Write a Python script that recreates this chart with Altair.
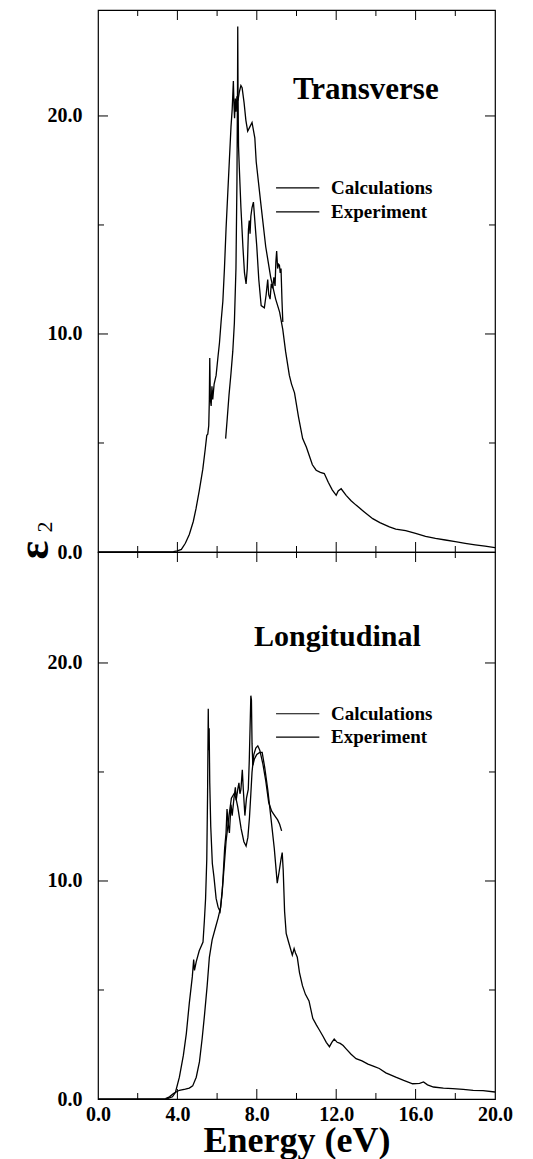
import altair as alt
import pandas as pd

FONT = "Liberation Serif"

# ---------------- data (Energy eV, epsilon_2) ----------------
trans_calc = [(0.0, 0.0), (1.0, 0.0), (2.0, 0.0), (3.0, 0.0), (3.5, 0.0), (3.8, 0.02), (4.0, 0.05), (4.2, 0.12),
              (4.4, 0.4), (4.6, 0.8), (4.8, 1.4), (4.94, 2.0), (5.1, 2.8), (5.28, 3.8), (5.4, 4.7), (5.48, 5.35),
              (5.53, 5.4), (5.58, 5.8), (5.61, 7.0), (5.63, 8.9), (5.66, 7.0), (5.7, 6.7), (5.74, 7.6), (5.78, 7.0),
              (5.85, 7.7), (5.95, 8.1), (6.05, 9.0), (6.12, 9.6), (6.2, 10.55), (6.29, 11.5), (6.37, 13.0),
              (6.45, 14.8), (6.54, 16.5), (6.62, 18.0), (6.7, 19.5), (6.76, 20.3), (6.82, 21.6), (6.85, 20.5),
              (6.88, 19.9), (6.92, 20.8), (6.96, 20.2), (7.0, 20.9), (7.05, 20.7), (7.12, 21.1), (7.2, 21.4),
              (7.26, 21.3), (7.36, 20.6), (7.45, 19.8), (7.54, 19.3), (7.65, 19.5), (7.76, 19.7), (7.9, 19.0),
              (7.97, 17.9), (8.2, 16.0), (8.45, 14.0), (8.7, 12.6), (8.95, 11.6), (9.15, 11.0), (9.31, 10.2),
              (9.45, 9.2), (9.64, 8.1), (9.75, 7.7), (9.9, 7.3), (10.1, 6.2), (10.31, 5.2), (10.5, 4.8),
              (10.65, 4.4), (10.8, 4.0), (10.99, 3.75), (11.2, 3.65), (11.4, 3.6), (11.6, 3.2), (11.8, 2.85),
              (12.0, 2.6), (12.1, 2.8), (12.25, 2.9), (12.5, 2.6), (12.75, 2.35), (13.0, 2.15), (13.4, 1.85),
              (13.84, 1.53), (14.2, 1.35), (14.68, 1.15), (15.0, 1.05), (15.5, 0.98), (16.0, 0.85), (16.5, 0.72),
              (17.0, 0.62), (17.5, 0.55), (18.0, 0.48), (18.5, 0.4), (19.0, 0.33), (19.5, 0.27), (20.0, 0.2)]

trans_exp = [(6.43, 5.2), (6.5, 6.0), (6.6, 7.2), (6.7, 8.2), (6.79, 9.2), (6.87, 10.5), (6.95, 13.0), (7.0, 17.0),
             (7.03, 21.5), (7.04, 24.1), (7.055, 21.0), (7.08, 18.6), (7.12, 17.6), (7.2, 15.8), (7.3, 14.0),
             (7.38, 12.8), (7.46, 12.3), (7.52, 13.0), (7.58, 14.8), (7.62, 15.2), (7.66, 14.6), (7.7, 15.4),
             (7.76, 15.8), (7.83, 16.05), (7.9, 15.2), (8.0, 14.0), (8.1, 12.5), (8.22, 11.3), (8.38, 11.2),
             (8.47, 11.8), (8.55, 12.5), (8.6, 11.8), (8.67, 11.6), (8.73, 12.3), (8.8, 12.1), (8.86, 12.6),
             (8.92, 12.2), (8.96, 13.3), (9.0, 13.8), (9.05, 13.0), (9.1, 13.2), (9.14, 13.15), (9.18, 12.8),
             (9.22, 13.0), (9.27, 11.5), (9.31, 10.55)]

long_calc = [(0.0, 0.0), (1.0, 0.0), (2.0, 0.0), (3.0, 0.0), (3.5, 0.02), (3.75, 0.1), (3.9, 0.3), (4.1, 1.0),
             (4.3, 2.0), (4.45, 3.0), (4.6, 4.4), (4.75, 5.6), (4.82, 6.4), (4.86, 5.9), (4.95, 6.3), (5.1, 6.8),
             (5.29, 7.2), (5.36, 8.2), (5.42, 9.2), (5.48, 11.0), (5.52, 14.0), (5.555, 17.9), (5.575, 16.0),
             (5.6, 17.0), (5.63, 14.5), (5.68, 12.5), (5.76, 10.8), (5.84, 10.2), (5.95, 9.2), (6.05, 8.8),
             (6.15, 8.6), (6.26, 9.5), (6.38, 11.5), (6.45, 12.2), (6.5, 13.3), (6.56, 12.6), (6.62, 12.2),
             (6.7, 13.5), (6.76, 13.0), (6.85, 13.8), (6.92, 14.3), (6.96, 13.7), (7.04, 14.2), (7.1, 14.5),
             (7.15, 14.0), (7.2, 14.2), (7.27, 15.1), (7.32, 14.2), (7.4, 13.0), (7.48, 13.8), (7.57, 14.2),
             (7.62, 15.5), (7.66, 17.0), (7.7, 18.5), (7.73, 18.3), (7.76, 16.3), (7.8, 15.3), (7.88, 15.6),
             (8.0, 15.8), (8.15, 15.9), (8.27, 15.9), (8.4, 15.2), (8.55, 14.2), (8.7, 13.0), (8.88, 11.5),
             (9.03, 9.9), (9.12, 10.4), (9.22, 11.0), (9.28, 11.3), (9.33, 10.5), (9.4, 8.6), (9.48, 7.6),
             (9.6, 7.2), (9.79, 6.6), (9.88, 6.9), (9.95, 6.7), (10.04, 6.5), (10.15, 5.8), (10.3, 5.2),
             (10.45, 4.8), (10.63, 4.5), (10.82, 3.7), (11.0, 3.4), (11.13, 3.2), (11.32, 2.9), (11.5, 2.6),
             (11.66, 2.4), (11.78, 2.6), (11.9, 2.75), (12.05, 2.6), (12.2, 2.55), (12.35, 2.45), (12.5, 2.3),
             (12.75, 2.05), (13.0, 1.85), (13.3, 1.75), (13.6, 1.6), (13.9, 1.5), (14.17, 1.4), (14.5, 1.2),
             (15.0, 1.0), (15.4, 0.85), (15.85, 0.7), (16.2, 0.72), (16.4, 0.78), (16.6, 0.65), (16.9, 0.55),
             (17.4, 0.5), (17.87, 0.48), (18.4, 0.44), (18.9, 0.4), (19.4, 0.38), (20.0, 0.32)]

long_exp = [(3.4, 0.02), (3.6, 0.1), (3.8, 0.25), (4.1, 0.4), (4.4, 0.45), (4.6, 0.5), (4.77, 0.6), (4.95, 1.0),
            (5.11, 1.7), (5.25, 2.8), (5.36, 3.8), (5.5, 5.2), (5.61, 6.5), (5.75, 7.3), (5.93, 7.9), (6.05, 8.3),
            (6.18, 8.8), (6.3, 10.0), (6.45, 11.8), (6.6, 13.0), (6.72, 13.8), (6.85, 14.0), (6.95, 13.8),
            (7.04, 13.4), (7.21, 12.4), (7.35, 11.8), (7.46, 11.6), (7.55, 12.0), (7.63, 12.9), (7.7, 14.0),
            (7.76, 15.0), (7.85, 15.8), (7.95, 16.1), (8.05, 16.2), (8.15, 16.0), (8.3, 15.4), (8.45, 14.6),
            (8.6, 13.6), (8.75, 13.2), (8.9, 13.0), (9.05, 12.8), (9.15, 12.6), (9.25, 12.3)]

series_names = ["Calculations", "Experiment"]
panel_titles = ["Transverse", "Longitudinal"]
panel_title_sizes = [31, 30]

x_label_values = [0, 4, 8, 12, 16, 20]
y_label_values = [0, 10, 20]
x_major_ticks = [4, 8, 12, 16]
x_minor_ticks = [2, 6, 10, 14, 18]
y_major_ticks = [10, 20]
y_minor_ticks = [5, 15]

# annotation anchors (data units)
title_anchor = [(13.49, 20.78), (12.06, 20.8)]
legend_line_E = (8.97, 11.15)
legend_text_E = 11.74
legend_rows_v = [(16.7, 15.6), (17.67, 16.6)]

W = 397
heights = [542, 547]
ymax = [24.86, 25.09]


def make_panel(idx, calc, exp, bottom):
    H = heights[idx]
    xs = alt.Scale(domain=[0, 20], nice=False, zero=False)
    ys = alt.Scale(domain=[0, ymax[idx]], nice=False, zero=False)
    rows = [{"E": e, "v": v, "series": series_names[0]} for e, v in calc] + \
           [{"E": e, "v": v, "series": series_names[1]} for e, v in exp]
    df = pd.DataFrame(rows)

    if bottom:
        xaxis = alt.Axis(values=x_label_values, format=".1f", labelFont=FONT, labelFontSize=20,
                         labelFontWeight="bold", labelColor="black", labelFlush=False,
                         labelOverlap=False, ticks=False, tickSize=0, domain=False, grid=False,
                         labelPadding=5, titleFont=FONT, titleFontSize=36, titleFontWeight="bold",
                         titleColor="black", titlePadding=-1)
        xtitle = "Energy (eV)"
    else:
        xaxis = None
        xtitle = ""
    yaxis = alt.Axis(values=y_label_values, format=".1f", labelFont=FONT, labelFontSize=20,
                     labelFontWeight="bold", labelColor="black", labelFlush=False,
                     labelOverlap=False, ticks=False, tickSize=0, domain=False, grid=False,
                     labelPadding=16)

    def X(field):
        return alt.X(field, scale=xs, axis=xaxis, title=xtitle)

    def Y(field):
        return alt.Y(field, scale=ys, axis=yaxis, title="")

    lines = alt.Chart(df).mark_line(color="black", strokeWidth=1.3, clip=True).encode(
        x=X("E:Q"), y=Y("v:Q"), detail="series:N")

    layers = [lines]
    # inward ticks on all four sides
    for vals, ln in ((x_major_ticks, 10), (x_minor_ticks, 6)):
        d = pd.DataFrame({"E": vals})
        layers.append(alt.Chart(d).mark_rule(color="black", strokeWidth=1).encode(
            x=X("E:Q"), y=alt.value(H), y2=alt.value(H - ln)))
        layers.append(alt.Chart(d).mark_rule(color="black", strokeWidth=1).encode(
            x=X("E:Q"), y=alt.value(0), y2=alt.value(ln)))
    for vals, ln in ((y_major_ticks, 10), (y_minor_ticks, 6)):
        d = pd.DataFrame({"v": vals})
        layers.append(alt.Chart(d).mark_rule(color="black", strokeWidth=1).encode(
            y=Y("v:Q"), x=alt.value(0), x2=alt.value(ln)))
        layers.append(alt.Chart(d).mark_rule(color="black", strokeWidth=1).encode(
            y=Y("v:Q"), x=alt.value(W), x2=alt.value(W - ln)))

    tE, tv = title_anchor[idx]
    tdf = pd.DataFrame({"E": [tE], "v": [tv], "t": [panel_titles[idx]]})
    layers.append(alt.Chart(tdf).mark_text(font=FONT, fontSize=panel_title_sizes[idx], fontWeight="bold",
                                           color="black", align="center", baseline="alphabetic").encode(
        x=X("E:Q"), y=Y("v:Q"), text="t:N"))

    lv = legend_rows_v[idx]
    ldf = pd.DataFrame({"E": [legend_line_E[0]] * 2, "E2": [legend_line_E[1]] * 2,
                        "Et": [legend_text_E] * 2, "v": list(lv), "t": series_names})
    layers.append(alt.Chart(ldf).mark_rule(color="black", strokeWidth=1.2).encode(
        x=X("E:Q"), x2="E2:Q", y=Y("v:Q")))
    layers.append(alt.Chart(ldf).mark_text(font=FONT, fontSize=19, fontWeight="bold", color="black",
                                           align="left", baseline="middle").encode(
        x=X("Et:Q"), y=Y("v:Q"), text="t:N"))

    if bottom:
        layers.append(alt.Chart(pd.DataFrame({"t": ["ε"]})).mark_text(
            font=FONT, fontSize=44, fontWeight="bold", color="black", angle=270, align="center",
            baseline="alphabetic").encode(x=alt.value(-50), y=alt.value(-2), text="t:N"))
        layers.append(alt.Chart(pd.DataFrame({"t": ["2"]})).mark_text(
            font=FONT, fontSize=22, color="black", angle=270, align="center",
            baseline="alphabetic").encode(x=alt.value(-46), y=alt.value(-25), text="t:N"))

    return alt.layer(*layers).properties(width=W, height=H)


top = make_panel(0, trans_calc, trans_exp, False)
bot = make_panel(1, long_calc, long_exp, True)

chart = alt.vconcat(top, bot, spacing=0, bounds="flush").properties(
    padding={"left": 4, "top": 0, "right": 5, "bottom": 5}
).configure_view(stroke="black", strokeWidth=1.2)

chart.save("out.html", embed_options={"renderer": "svg", "actions": False})
